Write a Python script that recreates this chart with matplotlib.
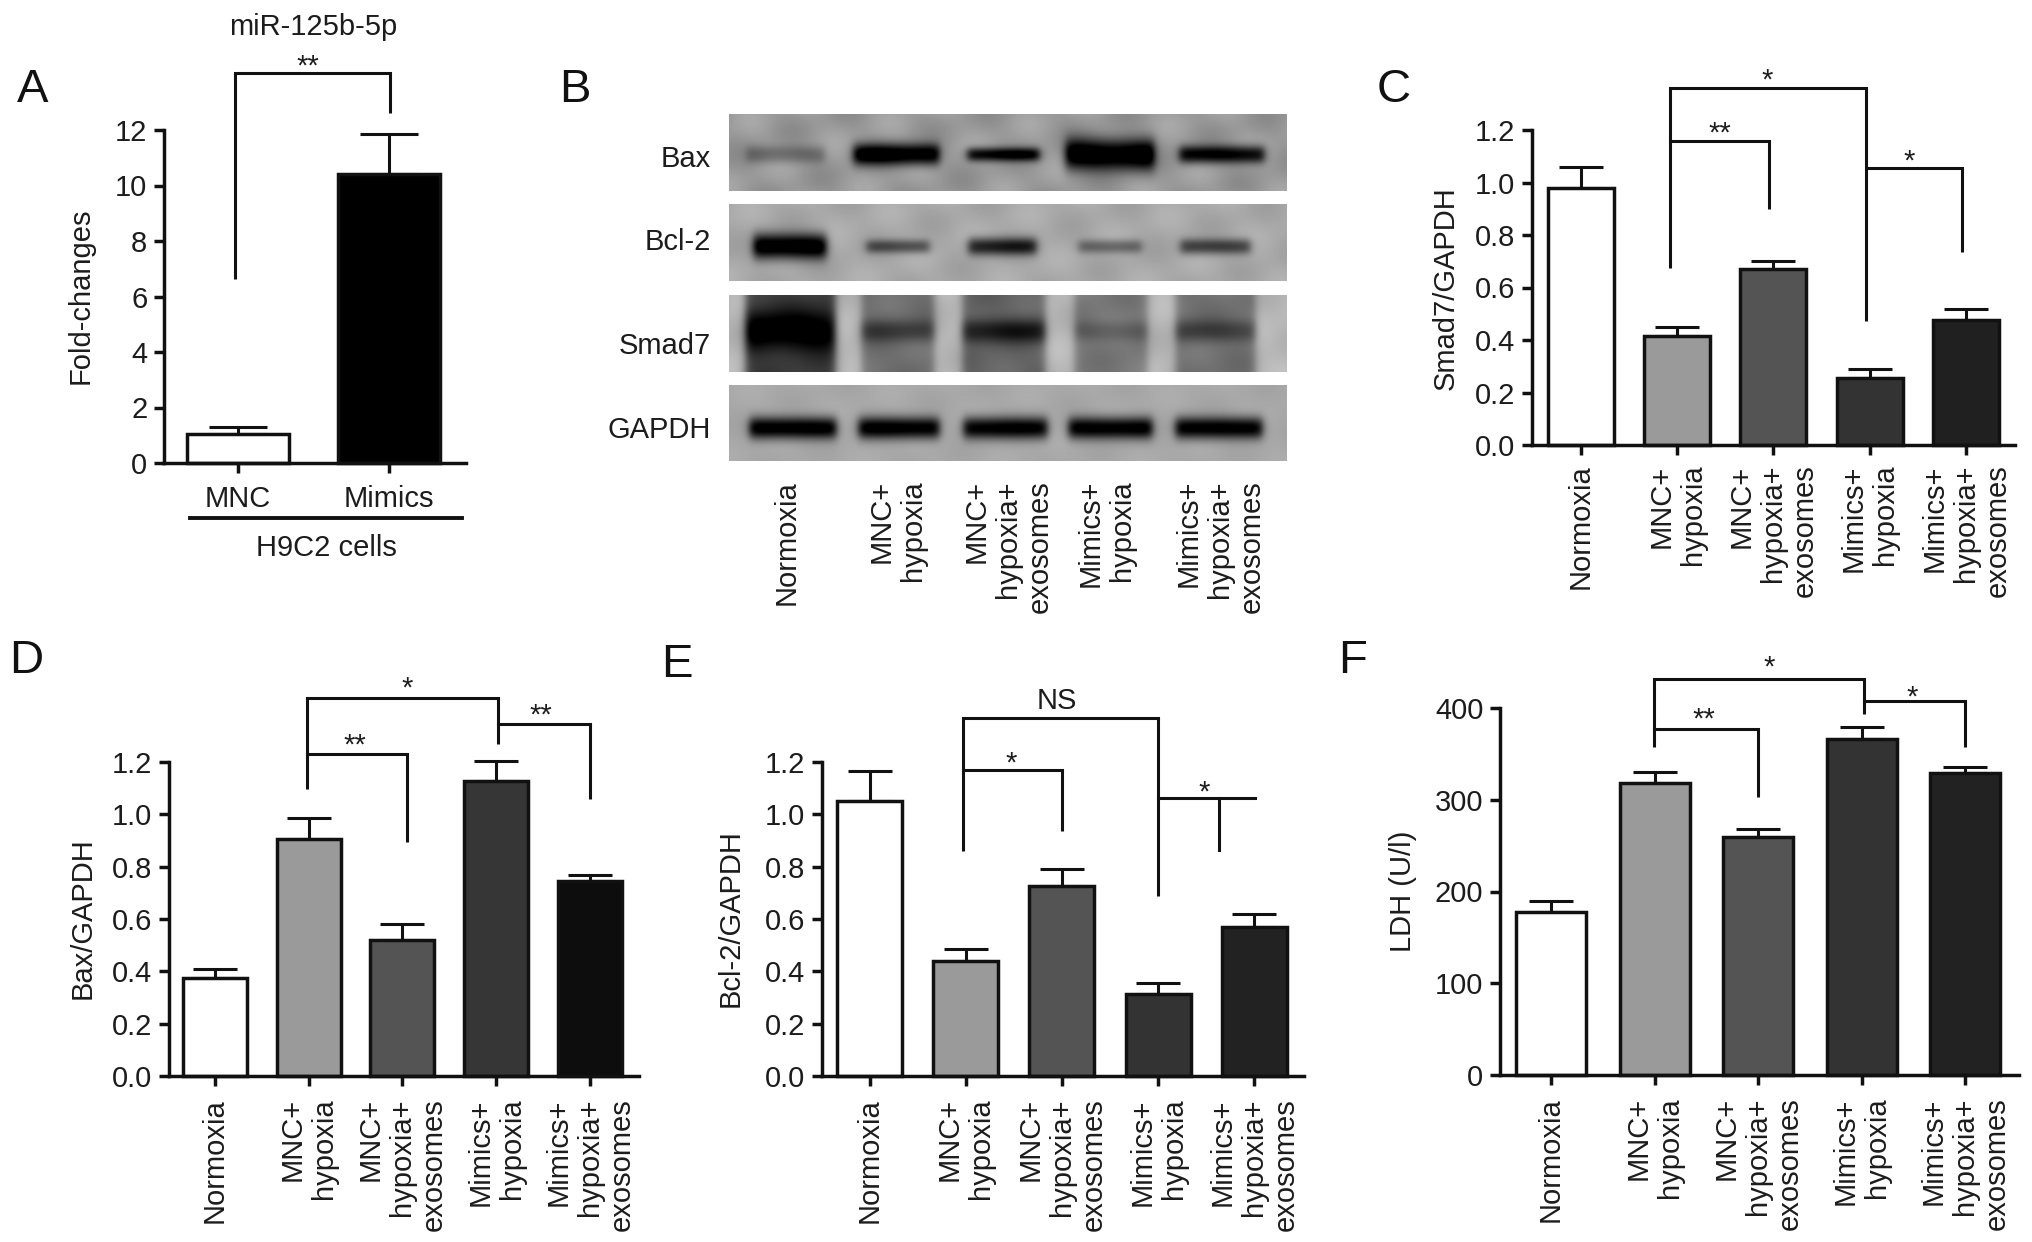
import numpy as np
import matplotlib
matplotlib.use('Agg')
import matplotlib.pyplot as plt

plt.rcParams['font.family'] = ['Liberation Sans', 'DejaVu Sans']
W, H = 2032, 1242
FS = 21
TXT = '#1c1c1c'
LN = '#111111'
BR = 2.2
LSP = 1.16

groups = ['Normoxia', 'MNC+\nhypoxia', 'MNC+\nhypoxia+\nexosomes', 'Mimics+\nhypoxia', 'Mimics+\nhypoxia+\nexosomes']

a_labels = ['MNC', 'Mimics']
a_vals = [1.05, 10.4]
a_tops = [1.3, 11.85]
a_ticks = [0, 2, 4, 6, 8, 10, 12]

c_vals = [0.98, 0.415, 0.67, 0.255, 0.475]
c_tops = [1.06, 0.45, 0.70, 0.29, 0.52]
d_vals = [0.375, 0.905, 0.52, 1.128, 0.745]
d_tops = [0.41, 0.985, 0.58, 1.205, 0.77]
e_vals = [1.05, 0.44, 0.728, 0.315, 0.568]
e_tops = [1.165, 0.485, 0.79, 0.355, 0.62]
f_vals = [178, 318, 259, 366, 329]
f_tops = [190, 330, 268, 379.5, 336]
ratio_ticks = [0.0, 0.2, 0.4, 0.6, 0.8, 1.0, 1.2]
ldh_ticks = [0, 100, 200, 300, 400]

c_cols = ['white', '#9a9a9a', '#545454', '#333333', '#202020']
d_cols = ['white', '#9a9a9a', '#545454', '#363636', '#0d0d0d']
e_cols = ['white', '#9a9a9a', '#545454', '#333333', '#222222']
f_cols = ['white', '#9a9a9a', '#545454', '#333333', '#222222']

# blot lanes: (left, right, darkness, thickness, lane column darkness), pixels inside each strip
bax_lanes = [(17, 95, 0.2, 9, 0), (124, 210, 0.7, 11, 0), (238, 310, 0.62, 7, 0), (336, 425, 0.75, 16, 0), (450, 535, 0.62, 9, 0)]
bcl_lanes = [(24, 97, 0.78, 13, 0), (137, 200, 0.36, 7, 0), (239, 307, 0.55, 9, 0), (349, 412, 0.28, 7, 0), (451, 521, 0.42, 8, 0)]
smad_lanes = [(16, 106, 0.32, 20, 0.48), (132, 205, 0.2, 11, 0.29), (233, 316, 0.3, 12, 0.33), (345, 418, 0.12, 10, 0.25), (446, 526, 0.2, 11, 0.28)]
gapdh_lanes = [(20, 107, 0.72, 11, 0), (129, 210, 0.7, 11, 0), (234, 318, 0.68, 11, 0), (339, 423, 0.7, 11, 0), (446, 533, 0.7, 11, 0)]


def add_ax(left, right, y0, ytop):
    return fig.add_axes([left / W, 1 - y0 / H, (right - left) / W, (y0 - ytop) / H])


def panel(rect, c0, step, width, vals, tops, cols, ticks, labels, capw, pad, tickfmt='%.1f'):
    left, right, y0, ytop = rect
    ax = add_ax(left, right, y0, ytop)
    x = np.arange(len(vals))
    ax.bar(x, vals, width / step, color=cols, edgecolor=LN, linewidth=2.5, zorder=3, clip_on=False)
    low = np.zeros(len(vals))
    up = np.array(tops) - np.array(vals)
    eb = ax.errorbar(x, vals, yerr=[low, up], fmt='none', ecolor=LN, elinewidth=2.2,
                     capsize=capw / 2 / 1.39, capthick=2.2, zorder=2)
    for part in eb.lines[1] + eb.lines[2]:
        part.set_clip_on(False)
    ax.set_xlim((left - c0) / step, (right - c0) / step)
    ax.set_ylim(ticks[0], ticks[-1])
    ax.set_yticks(ticks)
    ax.set_yticklabels([tickfmt % t for t in ticks])
    ax.set_xticks(x)
    ax.set_xticklabels(labels)
    ax.patch.set_alpha(0)
    for s in ['top', 'right']:
        ax.spines[s].set_visible(False)
    for s in ['left', 'bottom']:
        ax.spines[s].set_linewidth(2.5)
        ax.spines[s].set_color(LN)
        ax.spines[s].set_zorder(5)
    ax.tick_params(axis='both', length=7, width=2.5, color=LN, labelsize=FS, labelcolor=TXT)
    ax.tick_params(axis='y', pad=5)
    ax.tick_params(axis='x', pad=pad)
    if len(labels) > 2:
        for t in ax.get_xticklabels():
            t.set_rotation(90)
            t.set_ha('center')
            t.set_va('top')
            t.set_multialignment('right')
            t.set_linespacing(LSP)
    return ax


def bracket(x1, x2, y, b1=None, b2=None):
    ov.plot([x1, x2], [y, y], color=LN, lw=BR, solid_capstyle='projecting')
    if b1:
        ov.plot([x1, x1], [y, b1], color=LN, lw=BR, solid_capstyle='butt')
    if b2:
        ov.plot([x2, x2], [y, b2], color=LN, lw=BR, solid_capstyle='butt')


def star(x, y, s):
    ov.text(x, y + 12, s, ha='center', va='baseline', fontsize=FS, color=TXT)


def letter(x, y, s):
    ov.text(x, y, s, ha='center', va='center', fontsize=34, color='#111111')


def ylab(x, y, s):
    ov.text(x, y, s, ha='center', va='center', rotation=90, fontsize=FS, color=TXT)


def blot(left, right, top, bottom, lanes, bg, yc, mottle=0.02):
    w, h = int(right - left), int(bottom - top)
    xx, yy = np.meshgrid(np.arange(w), np.arange(h))
    # slow sine ripple stands in for the film's uneven background
    img = bg + mottle * (np.sin(xx / 23.0 + yy / 9.0) + np.sin(xx / 11.0 - yy / 17.0))
    for l, r, dark, th, col in lanes:
        px = 0.5 * (np.tanh((xx - l) / 5.0) - np.tanh((xx - r) / 5.0))
        py = np.exp(-np.abs((yy - yc) / th) ** 2.2)
        img = img - dark * px * py - col * px
    ax = add_ax(left, right, bottom, top)
    ax.imshow(np.clip(img, 0, 1), cmap='gray', vmin=0, vmax=1, aspect='auto', interpolation='bilinear')
    ax.axis('off')


fig = plt.figure(figsize=(W / 100, H / 100), dpi=100)

panel((164, 466, 463, 130), 238, 151, 102, a_vals, a_tops, ['white', 'black'], a_ticks, a_labels, 58, 9, '%d')
panel((1532, 2015, 445, 130), 1581, 96.2, 66, c_vals, c_tops, c_cols, ratio_ticks, groups, 44, 7)
panel((169, 639, 1076, 762), 215, 93.7, 64, d_vals, d_tops, d_cols, ratio_ticks, groups, 44, 9)
panel((822, 1304, 1076, 762), 869.5, 96.2, 65, e_vals, e_tops, e_cols, ratio_ticks, groups, 44, 9)
panel((1500, 2019, 1075, 708), 1551, 103.5, 70, f_vals, f_tops, f_cols, ldh_ticks, groups, 44, 9, '%d')

# panel B
blot(729, 1287, 114, 191, bax_lanes, 0.6, 40, 0.03)
blot(729, 1287, 204, 281, bcl_lanes, 0.66, 42)
blot(729, 1287, 295, 372, smad_lanes, 0.72, 36)
blot(729, 1287, 385, 461, gapdh_lanes, 0.66, 43, 0.01)

# overlay in image pixels for labels and brackets
ov = fig.add_axes([0, 0, 1, 1], zorder=10)
ov.set_xlim(0, W)
ov.set_ylim(H, 0)
ov.axis('off')

# A
letter(33, 90, 'A')
ov.text(313, 27, 'miR-125b-5p', ha='center', va='center', fontsize=FS, color=TXT)
bracket(235, 390, 73, 279, 113)
star(308, 63, '**')
ylab(81, 296, 'Fold-changes')
ov.plot([190, 462], [518, 518], color=LN, lw=2.8)
ov.text(326, 548, 'H9C2 cells', ha='center', va='center', fontsize=FS, color=TXT)

# B
letter(575, 90, 'B')
for name, yy in zip(['Bax', 'Bcl-2', 'Smad7', 'GAPDH'], [159, 242, 346, 430]):
    ov.text(711, yy, name, ha='right', va='center', fontsize=FS, color=TXT)
for xc, name in zip([787, 897, 1008, 1106, 1220], groups):
    ov.text(xc, 480, name, ha='center', va='top', rotation=90, multialignment='right',
            linespacing=LSP, fontsize=FS, color=TXT)

# C
letter(1394, 90, 'C')
ylab(1446, 288, 'Smad7/GAPDH')
bracket(1670, 1866, 88, 268, 321)
bracket(1670, 1769, 141, None, 209)
bracket(1867, 1962, 168, None, 252)
star(1767, 77, '*')
star(1720, 130, '**')
star(1909, 158, '*')

# D
letter(26, 661, 'D')
ylab(83, 918, 'Bax/GAPDH')
bracket(307, 498, 698, 789, 744)
bracket(307, 407, 754, None, 842)
bracket(498, 590, 724, None, 799)
star(407, 685, '*')
star(355, 742, '**')
star(541, 712, '**')

# E
letter(677, 665, 'E')
ylab(731, 918, 'Bcl-2/GAPDH')
bracket(963, 1158, 718, 851, 896)
bracket(963, 1062, 770, None, 831)
bracket(1158, 1255, 798)
ov.plot([1219, 1219], [798, 850], color=LN, lw=BR)
ov.text(1057, 701, 'NS', ha='center', va='center', fontsize=FS, color=TXT)
star(1011, 760, '*')
star(1204, 789, '*')

# F
letter(1353, 661, 'F')
ylab(1403, 891, 'LDH (U/l)')
bracket(1654, 1864, 679, 747, 714)
bracket(1654, 1758, 729, None, 797)
bracket(1864, 1965, 701, None, 747)
star(1769, 664, '*')
star(1704, 716, '**')
star(1912, 694, '*')

fig.savefig('out.png', dpi=100)
